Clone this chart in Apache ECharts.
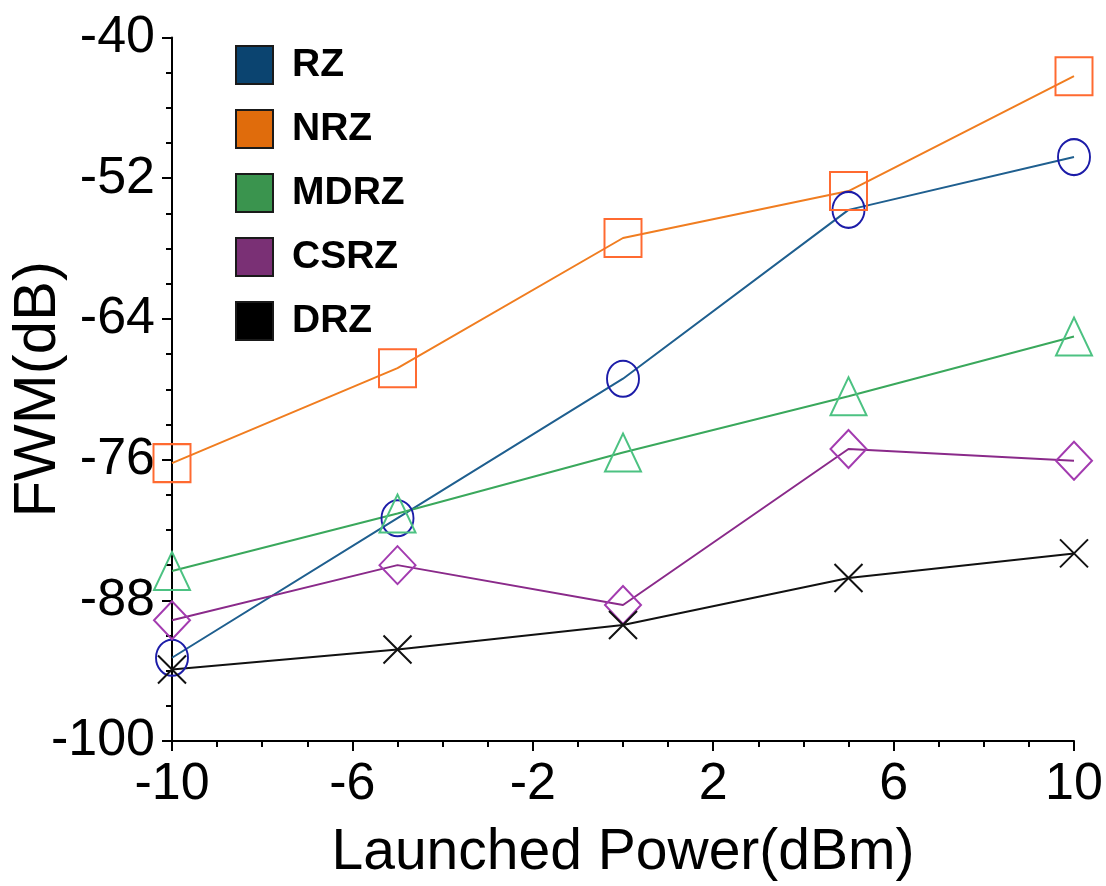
<!DOCTYPE html>
<html>
<head>
<meta charset="utf-8">
<script src="https://cdn.jsdelivr.net/npm/echarts@6/dist/echarts.min.js"></script>
<style>html,body{margin:0;padding:0;background:#fff}#c{width:1106px;height:886px}</style>
</head>
<body>
<div id="c"></div>
<script>
const xValues = [-10, -5, 0, 5, 10];
const RZ   = [-92.9, -81.0, -69.1, -54.7, -50.2];
const NRZ  = [-76.3, -68.2, -57.1, -53.1, -43.3];
const MDRZ = [-85.5, -80.6, -75.4, -70.6, -65.5];
const CSRZ = [-89.7, -85.0, -88.4, -75.1, -76.1];
const DRZ  = [-93.9, -92.2, -90.1, -86.1, -84.0];
const seriesNames = ['RZ', 'NRZ', 'MDRZ', 'CSRZ', 'DRZ'];
const xTitle = 'Launched Power(dBm)';
const yTitle = 'FWM(dB)';

const font = 'Liberation Sans, Arial, sans-serif';
const pairs = arr => arr.map((v, i) => [xValues[i], v]);

const styles = {
  RZ:   {line: '#1f5f8f', marker: '#1c1ca8', legend: '#0b4470', symbol: 'circle', size: [32, 36]},
  NRZ:  {line: '#f07d20', marker: '#ff6a30', legend: '#e06c0c', symbol: 'rect', size: [37, 38]},
  MDRZ: {line: '#3aa85c', marker: '#4cc282', legend: '#3a944e', symbol: 'triangle', size: [36, 38]},
  CSRZ: {line: '#8a2a8a', marker: '#a33bb0', legend: '#7a3075', symbol: 'diamond', size: [36, 38]},
  DRZ:  {line: '#111111', marker: '#111111', legend: '#000000', symbol: 'path://M0,0L10,10M10,0L0,10', size: [28, 28]}
};
const dataMap = {RZ, NRZ, MDRZ, CSRZ, DRZ};

const chart = echarts.init(document.getElementById('c'), null, {renderer: 'canvas'});
chart.setOption({
  animation: false,
  backgroundColor: '#fff',
  grid: {left: 172, right: 32, top: 37.5, bottom: 145, containLabel: false, outerBoundsMode: 'none'},
  legend: {
    orient: 'vertical',
    left: 230,
    top: 40,
    itemWidth: 37,
    itemHeight: 38,
    itemGap: 24,
    selectedMode: false,
    textStyle: {fontFamily: font, fontWeight: 'bold', fontSize: 39, color: '#000', padding: [0, 0, 0, 14]},
    data: seriesNames.map(n => ({
      name: n,
      icon: 'rect',
      itemStyle: {color: styles[n].legend, borderColor: '#1a1a1a', borderWidth: 2}
    }))
  },
  xAxis: {
    type: 'value',
    min: -10, max: 10, interval: 4,
    name: xTitle,
    nameLocation: 'middle',
    nameGap: 84,
    nameMoveOverlap: false,
    nameTextStyle: {fontFamily: font, fontSize: 57, color: '#000'},
    axisLine: {show: true, onZero: false, lineStyle: {color: '#000', width: 2}},
    axisTick: {show: true, inside: false, length: 10, lineStyle: {color: '#000', width: 2}},
    minorTick: {show: true, splitNumber: 4, length: 6, lineStyle: {color: '#000', width: 2}},
    axisLabel: {fontFamily: font, fontSize: 52, color: '#000', margin: 18},
    splitLine: {show: false}
  },
  yAxis: {
    type: 'value',
    min: -100, max: -40, interval: 12,
    name: yTitle,
    nameLocation: 'middle',
    nameRotate: 90,
    nameGap: 104,
    nameMoveOverlap: false,
    nameTextStyle: {fontFamily: font, fontSize: 60, color: '#000'},
    axisLine: {show: true, onZero: false, lineStyle: {color: '#000', width: 2}},
    axisTick: {show: true, inside: false, length: 10, lineStyle: {color: '#000', width: 2}},
    minorTick: {show: true, splitNumber: 4, length: 6, lineStyle: {color: '#000', width: 2}},
    axisLabel: {fontFamily: font, fontSize: 52, color: '#000', margin: 17},
    splitLine: {show: false}
  },
  series: seriesNames.map(n => ({
    name: n,
    type: 'line',
    data: pairs(dataMap[n]),
    symbol: styles[n].symbol,
    symbolSize: styles[n].size,
    showAllSymbol: true,
    lineStyle: {color: styles[n].line, width: 2},
    itemStyle: {color: 'rgba(0,0,0,0)', borderColor: styles[n].marker, borderWidth: 2},
    emphasis: {disabled: true}
  }))
});
</script>
</body>
</html>
